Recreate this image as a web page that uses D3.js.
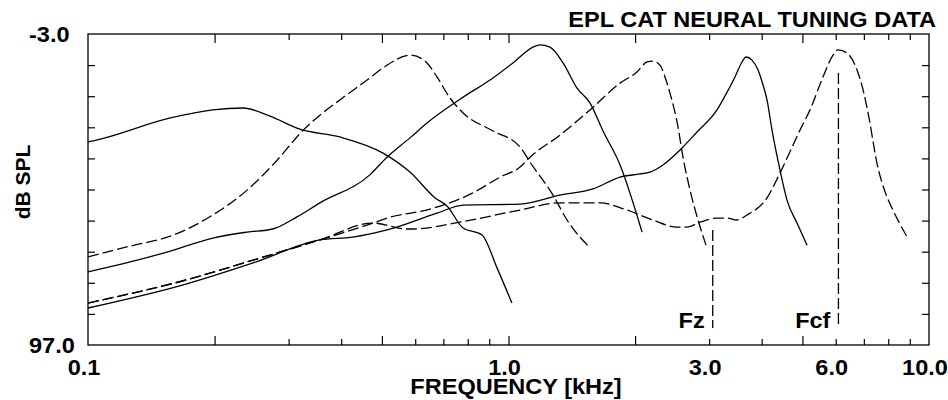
<!DOCTYPE html>
<html>
<head>
<meta charset="utf-8">
<script src="https://cdn.jsdelivr.net/npm/d3@7"></script>
<style>
  body { margin: 0; background: #fff; }
  text { font-family: "Liberation Sans", Arial, sans-serif; font-weight: bold; fill: #000; }
</style>
</head>
<body>
<div id="chart"></div>
<script>
// tuning curves: [frequency kHz, threshold dB SPL]
const curveA = [[0.1,31.7],[0.107,30.8],[0.157,24.0],[0.198,21.4],[0.234,20.8],[0.271,23.4],[0.319,27.6],[0.397,30.1],[0.503,35.3],[0.583,41.4],[0.669,49.7],[0.714,52.3],[0.780,59.4],[0.865,61.6],[0.939,72.2],[1.019,83.5]];
const curveB = [[0.1,68.7],[0.126,65.2],[0.157,62.0],[0.198,55.2],[0.239,47.2],[0.282,37.5],[0.325,27.9],[0.356,23.1],[0.397,18.2],[0.461,11.8],[0.503,7.9],[0.586,3.8],[0.640,6.3],[0.676,10.8],[0.726,17.6],[0.780,22.4],[0.919,28.2],[1.065,33.3],[1.125,38.2],[1.276,48.8],[1.378,56.8],[1.563,65.8]];
const curveC = [[0.1,73.5],[0.126,70.3],[0.157,66.8],[0.198,62.6],[0.239,60.7],[0.275,59.7],[0.314,55.8],[0.356,51.3],[0.468,42.3],[0.514,36.6],[0.583,30.4],[0.640,25.6],[0.780,17.3],[0.904,11.8],[1.025,6.3],[1.144,1.2],[1.188,0.5],[1.255,1.2],[1.348,6.3],[1.455,14.4],[1.563,19.2],[1.678,28.2],[1.842,39.1],[2.078,60.7]];
const curveD = [[0.1,83.5],[0.171,76.1],[0.247,69.7],[0.356,63.2],[0.476,57.8],[0.514,56.2],[0.651,53.3],[0.823,48.1],[0.955,43.0],[1.065,39.8],[1.125,36.6],[1.326,29.5],[1.563,21.4],[1.842,12.8],[2.021,9.2],[2.135,6.0],[2.206,5.7],[2.292,7.0],[2.356,10.8],[2.421,16.0],[2.530,26.9],[2.600,36.6],[2.702,47.2],[2.823,56.8],[2.949,64.9]];
const curveE = [[0.1,85.1],[0.171,77.4],[0.247,70.6],[0.356,63.2],[0.427,62.3],[0.514,60.0],[0.676,54.6],[0.780,52.0],[1.065,51.7],[1.326,48.8],[1.589,46.8],[1.842,43.0],[2.055,42.0],[2.170,41.4],[2.330,39.1],[2.558,34.3],[2.807,28.5],[3.132,21.4],[3.273,16.9],[3.456,10.8],[3.592,6.0],[3.671,4.4],[3.794,5.4],[3.921,8.6],[4.030,13.4],[4.119,18.2],[4.233,27.9],[4.422,40.7],[4.595,50.4],[4.854,57.8],[5.127,64.9]];
const curveF = [[0.1,83.5],[0.171,76.1],[0.247,69.7],[0.356,63.2],[0.476,57.8],[0.574,59.7],[0.593,59.7],[0.767,57.5],[1.065,53.6],[1.326,51.3],[1.651,51.3],[1.913,53.6],[2.206,56.8],[2.516,59.1],[2.657,59.1],[2.853,57.5],[3.132,56.2],[3.309,56.2],[3.494,56.8],[3.692,55.2],[4.119,49.7],[4.422,41.7],[4.934,27.9],[5.212,21.4],[5.597,10.8],[5.912,3.8],[6.076,2.1],[6.383,3.1],[6.743,8.6],[7.0,16.0],[7.2,24.0],[7.52,38.5],[7.946,49.4],[8.167,53.0],[8.87,62.3]];

const solidCurves = [curveA, curveC, curveE];
const dashedCurves = [curveB, curveD, curveF];

// marker lines
const markerLabels = ["Fz", "Fcf"];
const markerFreqs = [3.06, 6.09];
const markerTops = [60, 9.5];
const markerBottom = 91.5;

// axes
const xLabels = [0.1, 1, 3, 6, 10];
const yLabels = [-3, 97];
const xMajor = [0.2, 0.5, 1, 2, 5];
const xMinor = [0.3, 0.4, 0.6, 0.7, 0.8, 0.9, 3, 4, 6, 7, 8, 9];
const yTicks = [7, 17, 27, 37, 47, 57, 67, 77, 87];

const title = "EPL CAT NEURAL TUNING DATA";
const xTitle = "FREQUENCY [kHz]";
const yTitle = "dB SPL";

const W = 948, H = 400;
const margin = { top: 34, right: 19, bottom: 55, left: 88 };

const svg = d3.select("#chart").append("svg")
  .attr("width", W)
  .attr("height", H);

const x = d3.scaleLog().domain([0.1, 10]).range([margin.left, W - margin.right]);
const y = d3.scaleLinear().domain([-3, 97]).range([margin.top, H - margin.bottom]);

// TICKS (all pointing inwards)
// ---------------------------------------------------------------
function tickAxis(axis, tx, ty) {
  const g = svg.append("g")
    .attr("transform", `translate(${tx},${ty})`)
    .call(axis);
  g.select(".domain").remove();
  g.selectAll("line").attr("stroke", "#000").attr("stroke-width", 1.2);
}
const bottomY = y.range()[1], topY = y.range()[0];
const leftX = x.range()[0], rightX = x.range()[1];

tickAxis(d3.axisBottom(x).tickValues(xMajor).tickSize(-9).tickFormat(""), 0, bottomY);
tickAxis(d3.axisBottom(x).tickValues(xMinor).tickSize(-6).tickFormat(""), 0, bottomY);
tickAxis(d3.axisTop(x).tickValues(xMajor).tickSize(-9).tickFormat(""), 0, topY);
tickAxis(d3.axisTop(x).tickValues(xMinor).tickSize(-6).tickFormat(""), 0, topY);
tickAxis(d3.axisLeft(y).tickValues(yTicks).tickSize(-7).tickFormat(""), leftX, 0);
tickAxis(d3.axisRight(y).tickValues(yTicks).tickSize(-7).tickFormat(""), rightX, 0);

// frame
svg.append("rect")
  .attr("x", leftX)
  .attr("y", topY)
  .attr("width", rightX - leftX)
  .attr("height", bottomY - topY)
  .attr("fill", "none")
  .attr("stroke", "#000")
  .attr("stroke-width", 1.3);

// CURVES
// ---------------------------------------------------------------
const line = d3.line()
  .x(d => x(d[0]))
  .y(d => y(d[1]))
  .curve(d3.curveMonotoneX);

svg.append("g").selectAll("path")
  .data(solidCurves)
  .enter()
  .append("path")
  .attr("d", line)
  .attr("fill", "none")
  .attr("stroke", "#000")
  .attr("stroke-width", 1.3);

svg.append("g").selectAll("path")
  .data(dashedCurves)
  .enter()
  .append("path")
  .attr("d", line)
  .attr("fill", "none")
  .attr("stroke", "#000")
  .attr("stroke-width", 1.3)
  .attr("stroke-dasharray", "11,4");

// MARKERS Fz / Fcf
// ---------------------------------------------------------------
const hScale = 1.07; // text in the original is a bit wider than Arial
function hText(tx, ty, str, anchor, size) {
  return svg.append("text")
    .attr("transform", `translate(${tx},${ty}) scale(${hScale},1)`)
    .attr("text-anchor", anchor)
    .attr("font-size", size + "px")
    .text(str);
}

markerFreqs.forEach((f, i) => {
  svg.append("line")
    .attr("x1", x(f)).attr("x2", x(f))
    .attr("y1", y(markerTops[i])).attr("y2", y(markerBottom))
    .attr("stroke", "#000")
    .attr("stroke-width", 1.3)
    .attr("stroke-dasharray", "11,4");
  hText(x(f) - 8, y(markerBottom), markerLabels[i], "end", 22);
});

// LABELS
// ---------------------------------------------------------------
// plain hyphen for the minus sign, like the original
const fmt = d3.formatLocale({ decimal: ".", thousands: ",", grouping: [3], currency: ["", ""], minus: "-" }).format(".1f");
xLabels.forEach(v => hText(x(v) - 4, 374.5, fmt(v), "middle", 22));
yLabels.forEach(v => hText(29, y(v) + 7.5, fmt(v), "start", 22));

hText(936, 27, title, "end", 22);
hText(516, 394, xTitle, "middle", 22);

svg.append("text")
  .attr("transform", "translate(30,182) rotate(-90)")
  .attr("text-anchor", "middle")
  .attr("font-size", "21px")
  .text(yTitle);
</script>
</body>
</html>
